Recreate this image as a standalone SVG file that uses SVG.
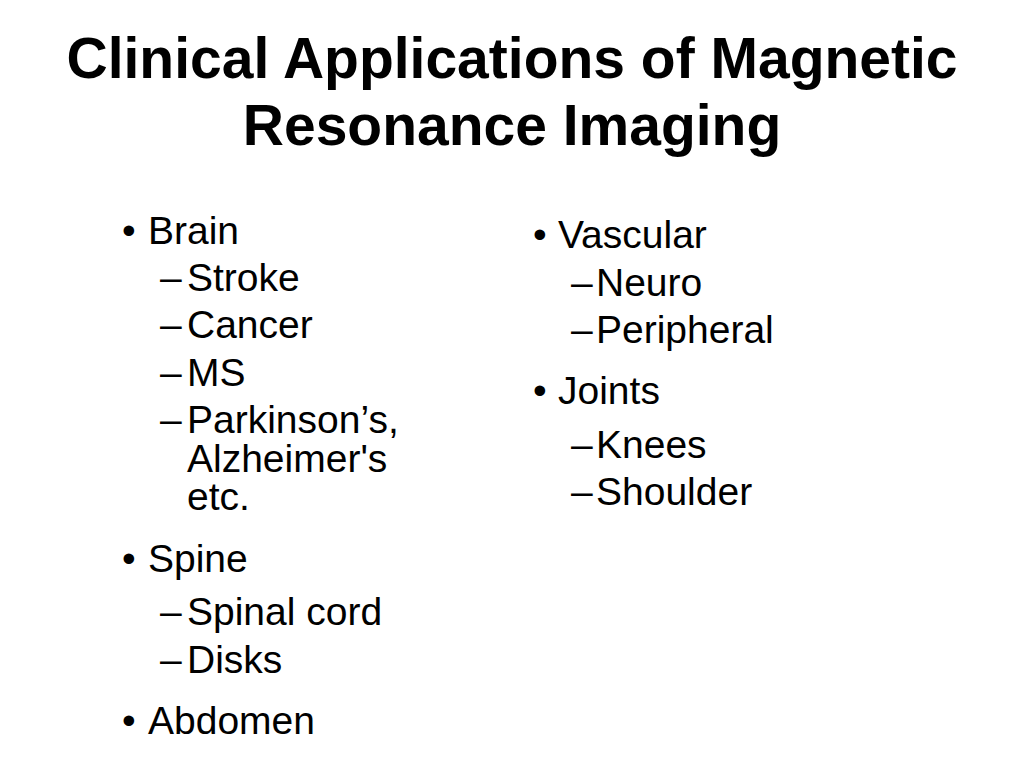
<svg xmlns="http://www.w3.org/2000/svg" width="1024" height="768" viewBox="0 0 1024 768">
<style>
.t{font-family:"Liberation Sans",Arial,sans-serif;font-weight:bold;font-size:57px;fill:#000;text-anchor:middle}
.b{font-family:"Liberation Sans",Arial,sans-serif;font-size:39px;fill:#000}
</style>
<rect width="1024" height="768" fill="#fff"/>
<g id="title">
<text class="t" x="512" y="78">Clinical Applications of Magnetic</text>
<text class="t" x="512" y="145">Resonance Imaging</text>
</g>
<g id="left">
<text class="b" x="122" y="244">•</text><text class="b" x="148" y="244">Brain</text>
<text class="b" x="160" y="291">–</text><text class="b" x="187" y="291">Stroke</text>
<text class="b" x="160" y="338">–</text><text class="b" x="187" y="338">Cancer</text>
<text class="b" x="160" y="386">–</text><text class="b" x="187" y="386">MS</text>
<text class="b" x="160" y="433">–</text><text class="b" x="187" y="433">Parkinson’s,<tspan x="187" dy="39">Alzheimer's</tspan><tspan x="187" dy="38">etc.</tspan></text>
<text class="b" x="122" y="572">•</text><text class="b" x="148" y="572">Spine</text>
<text class="b" x="160" y="625">–</text><text class="b" x="187" y="625">Spinal cord</text>
<text class="b" x="160" y="673">–</text><text class="b" x="187" y="673">Disks</text>
<text class="b" x="122" y="734">•</text><text class="b" x="148" y="734">Abdomen</text>
</g>
<g id="right">
<text class="b" x="533" y="248">•</text><text class="b" x="558" y="248">Vascular</text>
<text class="b" x="571" y="296">–</text><text class="b" x="596" y="296">Neuro</text>
<text class="b" x="571" y="343">–</text><text class="b" x="596" y="343">Peripheral</text>
<text class="b" x="533" y="404">•</text><text class="b" x="558" y="404">Joints</text>
<text class="b" x="571" y="458">–</text><text class="b" x="596" y="458">Knees</text>
<text class="b" x="571" y="505">–</text><text class="b" x="596" y="505">Shoulder</text>
</g>
</svg>
